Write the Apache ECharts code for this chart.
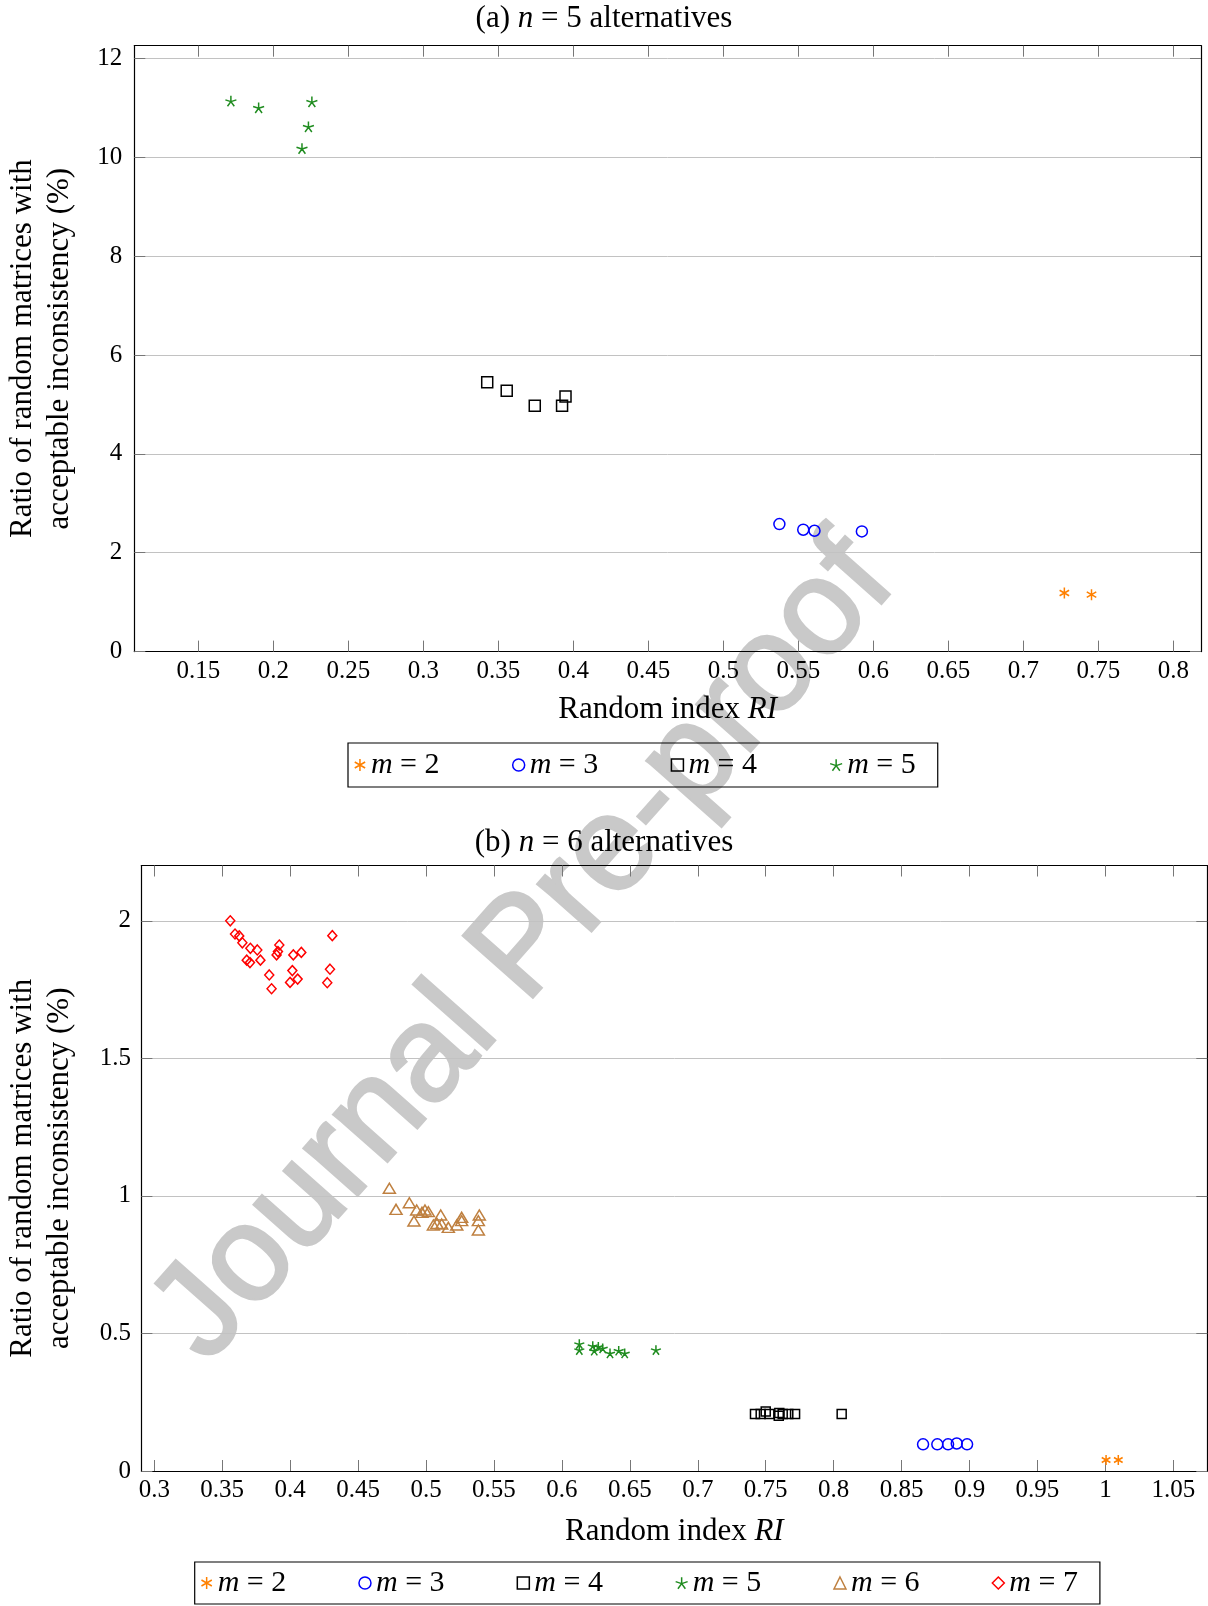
<!DOCTYPE html>
<html><head><meta charset="utf-8">
<script src="https://cdn.jsdelivr.net/npm/echarts@6/dist/echarts.min.js"></script>
<style>html,body{margin:0;padding:0;background:#fff}#c{width:1208px;height:1606px}</style>
</head><body><div id="c"></div>
<script>
// ---------- Panel (a): n = 5 alternatives ----------
const aM2X = [0.7274, 0.7455];
const aM2Y = [1.185, 1.152];
const aM3X = [0.5374, 0.5533, 0.5608, 0.5924];
const aM3Y = [2.579, 2.465, 2.444, 2.431];
const aM4X = [0.3426, 0.3556, 0.3743, 0.3925, 0.3948];
const aM4Y = [5.446, 5.277, 4.973, 4.973, 5.162];
const aM5X = [0.1717, 0.1902, 0.2257, 0.2234, 0.2191];
const aM5Y = [11.135, 11.0, 11.12, 10.615, 10.176];

// ---------- Panel (b): n = 6 alternatives ----------
const bM2X = [1.0005, 1.0095];
const bM2Y = [0.040, 0.040];
const bM3X = [0.8658, 0.8763, 0.8842, 0.8906, 0.8982];
const bM3Y = [0.097, 0.097, 0.097, 0.100, 0.097];
const bM4X = [0.7421, 0.7463, 0.7500, 0.7527, 0.7596, 0.7600, 0.7625, 0.7666, 0.7716, 0.8059];
const bM4Y = [0.207, 0.207, 0.216, 0.207, 0.201, 0.211, 0.207, 0.207, 0.207, 0.207];
const bM5X = [0.6128, 0.6128, 0.6227, 0.6238, 0.6268, 0.6300, 0.6354, 0.6418, 0.6462, 0.6692];
const bM5Y = [0.4616, 0.4398, 0.4544, 0.4374, 0.4519, 0.4460, 0.4278, 0.4374, 0.4278, 0.4398];
const bM6X = [0.4730, 0.4779, 0.4877, 0.4911, 0.4931, 0.4970, 0.4992, 0.5017, 0.5054, 0.5080,
              0.5108, 0.5115, 0.5164, 0.5226, 0.5262, 0.5262, 0.5392, 0.5385, 0.5385];
const bM6Y = [1.0276, 0.9510, 0.9753, 0.9088, 0.9488, 0.9400, 0.9488, 0.9426, 0.8942, 0.9000,
              0.9306, 0.8979, 0.8857, 0.8942, 0.9221, 0.9099, 0.9306, 0.9099, 0.8761];
const bM7X = [0.3559, 0.3594, 0.3625, 0.3648, 0.3707, 0.3758, 0.3680, 0.3704, 0.3781, 0.3846, 0.3863,
              0.3920, 0.3900, 0.3910, 0.4023, 0.4082, 0.4016, 0.3999, 0.4055, 0.4273, 0.4293, 0.4310];
const bM7Y = [2.000, 1.952, 1.945, 1.920, 1.900, 1.894, 1.857, 1.848, 1.857, 1.803, 1.753,
              1.912, 1.876, 1.888, 1.876, 1.885, 1.819, 1.776, 1.788, 1.775, 1.824, 1.946];

// ---------- Tick labels ----------
const aXTicks = [0.15, 0.2, 0.25, 0.3, 0.35, 0.4, 0.45, 0.5, 0.55, 0.6, 0.65, 0.7, 0.75, 0.8];
const aYTicks = [0, 2, 4, 6, 8, 10, 12];
const bXTicks = [0.3, 0.35, 0.4, 0.45, 0.5, 0.55, 0.6, 0.65, 0.7, 0.75, 0.8, 0.85, 0.9, 0.95, 1, 1.05];
const bYTicks = [0, 0.5, 1, 1.5, 2];

const seriesNames = ['m = 2', 'm = 3', 'm = 4', 'm = 5', 'm = 6', 'm = 7'];

const FONT = '"Liberation Serif", "Times New Roman", serif';
const ASTERISK = 'path://M0,-10L0,10M-8.66,-5L8.66,5M-8.66,5L8.66,-5';
const STAR = 'path://M0,0L0,-10M0,0L9.51,-3.09M0,0L5.88,8.09M0,0L-5.88,8.09M0,0L-9.51,-3.09';
const STYLE = {
  'm = 2': { color: '#ff8000', symbol: ASTERISK },
  'm = 3': { color: '#0000ff', symbol: 'circle' },
  'm = 4': { color: '#000000', symbol: 'rect' },
  'm = 5': { color: '#1f8c1f', symbol: STAR },
  'm = 6': { color: '#bf8040', symbol: 'triangle' },
  'm = 7': { color: '#ff0000', symbol: 'diamond' }
};

function mk(name, xs, ys, gi, size) {
  const s = STYLE[name];
  return {
    type: 'scatter', name: name,
    xAxisIndex: gi * 2, yAxisIndex: gi * 2,
    data: xs.map((x, i) => [x, ys[i]]),
    symbol: s.symbol, symbolSize: size,
    symbolKeepAspect: s.symbol.indexOf('path://') === 0,
    itemStyle: { color: 'rgba(0,0,0,0)', borderColor: s.color, borderWidth: 1.5, opacity: 1 },
    emphasis: { disabled: true },
    z: 5
  };
}

const fmt = v => String(+(+v).toFixed(3));
const NAME_FS = 31;

function axes(gi, xr, yr, xt, yt, lmX, lmY, ngX, ngY) {
  const tickStyle = { show: true, inside: true, length: 11, lineStyle: { color: '#777', width: 1 } };
  const line = { show: true, onZero: false, lineStyle: { color: '#000', width: 1.2 } };
  const xs = [
    { gridIndex: gi, type: 'value', position: 'bottom', min: xr[0], max: xr[1],
      axisLine: line,
      axisTick: Object.assign({ customValues: xt }, tickStyle),
      axisLabel: { customValues: xt, formatter: fmt, margin: lmX, color: '#000',
                   fontFamily: FONT, fontSize: 25, hideOverlap: false },
      splitLine: { show: false },
      name: 'Random index {i|RI}', nameLocation: 'middle', nameGap: ngX,
      nameTextStyle: { color: '#000', fontFamily: FONT, fontSize: NAME_FS,
        rich: { i: { fontStyle: 'italic', fontFamily: FONT, fontSize: NAME_FS, color: '#000' } } } },
    { gridIndex: gi, type: 'value', position: 'top', min: xr[0], max: xr[1],
      axisLine: line,
      axisTick: Object.assign({ customValues: xt }, tickStyle),
      axisLabel: { show: false }, splitLine: { show: false } }
  ];
  const ys = [
    { gridIndex: gi, type: 'value', position: 'left', min: yr[0], max: yr[1],
      axisLine: line,
      axisTick: Object.assign({ customValues: yt }, tickStyle),
      axisLabel: { customValues: yt, formatter: fmt, margin: lmY, color: '#000',
                   fontFamily: FONT, fontSize: 25, hideOverlap: false },
      splitLine: { show: true, lineStyle: { color: '#c2c2c2', width: 1 } },
      name: 'Ratio of random matrices with\nacceptable inconsistency (%)',
      nameLocation: 'middle', nameRotate: 90, nameGap: ngY,
      nameTextStyle: { color: '#000', fontFamily: FONT, fontSize: NAME_FS, lineHeight: 37, align: 'center' } },
    { gridIndex: gi, type: 'value', position: 'right', min: yr[0], max: yr[1],
      axisLine: line,
      axisTick: Object.assign({ customValues: yt }, tickStyle),
      axisLabel: { show: false }, splitLine: { show: false } }
  ];
  return { xs, ys };
}

const A = axes(0, [0.1073, 0.8185], [0, 12.255], aXTicks, aYTicks, 7, 12, 43, 56);
const B = axes(1, [0.2905, 1.075], [0, 2.201], bXTicks, bYTicks, 7, 10.5, 45, 63);

function legendCfg(names, left, top, gap, pad) {
  return {
    left: left, top: top, orient: 'horizontal',
    selectedMode: false,
    itemWidth: 12, itemHeight: 12, itemGap: gap,
    padding: pad,
    borderColor: '#000', borderWidth: 1.2, borderRadius: 0,
    data: names.map(n => ({
      name: n, icon: STYLE[n].symbol,
      itemStyle: { color: 'rgba(0,0,0,0)', borderColor: STYLE[n].color, borderWidth: 1.5 }
    })),
    formatter: n => '{i|m} = ' + n.split('= ')[1],
    textStyle: { color: '#000', fontFamily: FONT, fontSize: 30, lineHeight: 30,
      rich: { i: { fontStyle: 'italic', fontFamily: FONT, fontSize: 30, color: '#000' } } }
  };
}

const titleStyle = { color: '#000', fontFamily: FONT, fontSize: NAME_FS, fontWeight: 'normal', lineHeight: 34,
  rich: { i: { fontStyle: 'italic', fontFamily: FONT, fontSize: NAME_FS, color: '#000' } } };

const option = {
  animation: false,
  backgroundColor: '#fff',
  title: [
    { text: '(a) {i|n} = 5 alternatives', left: 'center', top: 2, padding: 0, textStyle: titleStyle },
    { text: '(b) {i|n} = 6 alternatives', left: 'center', top: 826, padding: 0, textStyle: titleStyle }
  ],
  grid: [
    { left: 134.3, top: 45.7, width: 1066.7, height: 605.9, outerBoundsMode: 'none', containLabel: false },
    { left: 141.4, top: 865.5, width: 1065.9, height: 605.5, outerBoundsMode: 'none', containLabel: false }
  ],
  xAxis: A.xs.concat(B.xs),
  yAxis: A.ys.concat(B.ys),
  legend: [
    legendCfg(seriesNames.slice(0, 4), 348, 743, 72.4, [7, 22, 7, 6]),
    legendCfg(seriesNames, 194.7, 1562, 72, [6, 22, 6, 6])
  ],
  graphic: [{
    type: 'text', z: -10, silent: true,
    x: 525, y: 950, rotation: 48.5 * Math.PI / 180,
    style: { text: 'Journal Pre-proof', font: '135px "Liberation Sans", Arial, sans-serif',
             fill: '#c9c9c9', stroke: '#c9c9c9', lineWidth: 3,
             align: 'center', verticalAlign: 'middle' }
  }],
  series: [
    mk('m = 2', aM2X, aM2Y, 0, 11),
    mk('m = 3', aM3X, aM3Y, 0, 11),
    mk('m = 4', aM4X, aM4Y, 0, 11),
    mk('m = 5', aM5X, aM5Y, 0, 11),
    mk('m = 2', bM2X, bM2Y, 1, 10),
    mk('m = 3', bM3X, bM3Y, 1, 11),
    mk('m = 4', bM4X, bM4Y, 1, 9),
    mk('m = 5', bM5X, bM5Y, 1, 10),
    mk('m = 6', bM6X, bM6Y, 1, [12, 10]),
    mk('m = 7', bM7X, bM7Y, 1, [9, 10])
  ]
};

const chart = echarts.init(document.getElementById('c'), null, { renderer: 'canvas' });
chart.setOption(option);
</script>
</body></html>
